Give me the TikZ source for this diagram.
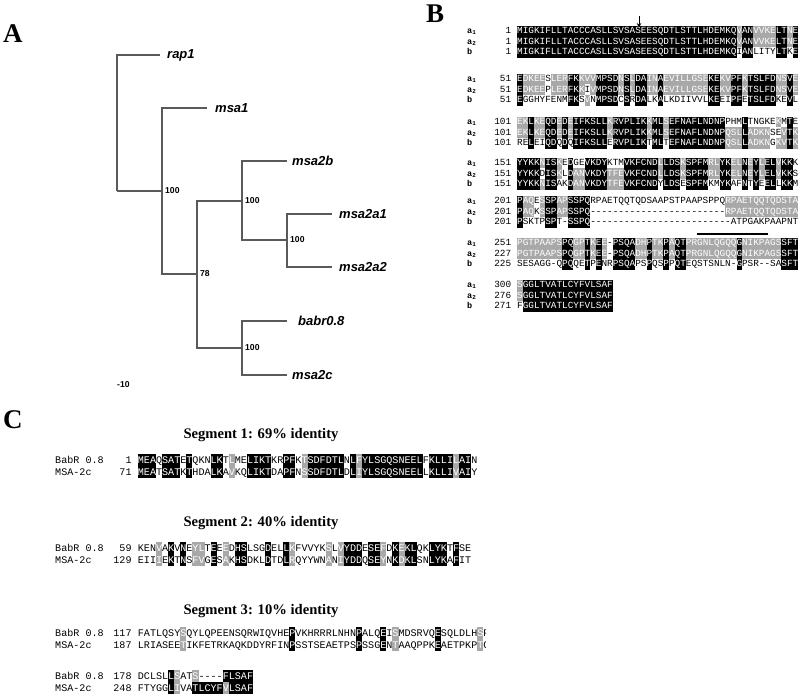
\documentclass[tikz,border=0pt]{standalone}
\usepackage{fontspec}
\setmainfont{Liberation Serif}
\newfontfamily\sansf{Liberation Sans}
\newfontfamily\monof{Liberation Mono}
\usetikzlibrary{arrows.meta}
\definecolor{sgray}{HTML}{A8A8A8}
\definecolor{branchc}{HTML}{5A5A5A}
\newcommand\srstrut{\rule[-2.6pt]{0pt}{10.6pt}}
\ExplSyntaxOn
\str_new:N \l__sr_a_str
\str_new:N \l__sr_b_str
\str_new:N \l__sr_c_str
\str_new:N \l__sr_x_str
\str_new:N \l__sr_y_str
\str_new:N \l__sr_z_str
\tl_new:N \l__sr_k_tl
\clist_new:N \l__sr_g_clist
\clist_new:N \l__sr_bk_clist
\clist_new:N \l__sr_w_clist
\cs_new:Npn \dsh #1 { \prg_replicate:nn {#1} {-} }
\cs_new_protected:Npn \srblack #1
  {
    \group_begin:
    \dim_set:Nn \fboxsep { 0pt }
    \colorbox { black } { \srstrut \textcolor { white } {#1} }
    \group_end:
  }
\cs_new_protected:Npn \srgray #1
  {
    \group_begin:
    \dim_set:Nn \fboxsep { 0pt }
    \colorbox { sgray } { \srstrut \textcolor { white } {#1} }
    \group_end:
  }
\cs_new_protected:Npn \srplain #1 { \srstrut #1 }
\cs_new_protected:Npn \seqrow #1#2#3#4#5#6
  {
    \str_set:Nx \l__sr_a_str {#1}
    \str_set:Nx \l__sr_b_str {#2}
    \str_set:Nx \l__sr_c_str {#3}
    \clist_set:Nn \l__sr_g_clist {#4}
    \clist_set:Nn \l__sr_bk_clist {#5}
    \clist_set:Nn \l__sr_w_clist {#6}
    \int_step_inline:nn { \str_count:N \l__sr_a_str }
      {
        \str_set:Nx \l__sr_x_str { \str_item:Nn \l__sr_a_str {##1} }
        \str_set:Nx \l__sr_y_str { \str_item:Nn \l__sr_b_str {##1} }
        \str_set:Nx \l__sr_z_str { \str_item:Nn \l__sr_c_str {##1} }
        \tl_set:Nn \l__sr_k_tl {w}
        \str_if_eq:VnF \l__sr_x_str {-}
          {
            \bool_if:nTF
              { \str_if_eq_p:VV \l__sr_x_str \l__sr_y_str && \str_if_eq_p:VV \l__sr_x_str \l__sr_z_str }
              { \tl_set:Nn \l__sr_k_tl {k} }
              {
                \bool_if:nT
                  { \str_if_eq_p:VV \l__sr_x_str \l__sr_y_str || \str_if_eq_p:VV \l__sr_x_str \l__sr_z_str }
                  { \tl_set:Nn \l__sr_k_tl {g} }
              }
          }
        \clist_if_in:NnT \l__sr_g_clist {##1} { \tl_set:Nn \l__sr_k_tl {g} }
        \clist_if_in:NnT \l__sr_bk_clist {##1} { \tl_set:Nn \l__sr_k_tl {k} }
        \clist_if_in:NnT \l__sr_w_clist {##1} { \tl_set:Nn \l__sr_k_tl {w} }
        \str_if_eq:VnTF \l__sr_k_tl {k}
          { \srblack { \l__sr_x_str } }
          {
            \str_if_eq:VnTF \l__sr_k_tl {g}
              { \srgray { \l__sr_x_str } }
              { \srplain { \l__sr_x_str } }
          }
      }
  }
\ExplSyntaxOff
% panel B sequences
\newcommand\sqIa{MIGKIFLLTACCCASLLSVSASEESQDTLSTTLHDEMKQVANVVKELTNE}
\newcommand\sqIb{MIGKIFLLTACCCASLLSVSASEESQDTLSTTLHDEMKQVANVVKELTNE}
\newcommand\sqIc{MIGKIFLLTACCCASLLSVSASEESQDTLSTTLHDEMKQIANLITYLTKE}
\newcommand\sqIIa{EDKEESLERFKKVVMPSDNSLDAINAEVILLGSEKEKVPFKTSLFDNSVE}
\newcommand\sqIIb{EDKEEPLERFKKIVMPSDNSLDAINAEVILLGSEKEKVPFKTSLFDNSVE}
\newcommand\sqIIc{EGGHYFENMFKSVNMPSDCSRDALKALKDIIVVLKEEIPFETSLFDKEVL}
\newcommand\sqIIIa{EKLKEQDEDEIFKSLLKRVPLIKKMLSEFNAFLNDNPPHMLTNGKEKMTE}
\newcommand\sqIIIb{EKLKEQDEDEIFKSLLKRVPLIKKMLSEFNAFLNDNPQSLLADKNSEVTK}
\newcommand\sqIIIc{RELEIQDQDQIFKSLLERVPLIKTMLTEFNAFLNDNPQSLLADKNGKVTK}
\newcommand\sqIVa{YYKKNISKEDGEVKDYKTMVKFCNDLLDSKSPFMRLYKELNEYLELVKKK}
\newcommand\sqIVb{YYKKDISKLDANVKDYTFEVKFCNDLLDSKSPFMRLYKELNEYLELVKKS}
\newcommand\sqIVc{YYKKNISAKDANVKDYTFEVKFCNDYLDSESPFMKMYKAFNTYEELLKKM}
\newcommand\sqVa{PAQESSPAPSSPQRPAETQQTQDSAAPSTPAAPSPPQRPAETQQTQDSTA}
\newcommand\sqVb{PAQKSSPAPSSPQ\dsh{24}RPAETQQTQDSTA}
\newcommand\sqVc{PSKTPSPT-SSPQ\dsh{25}ATPGAKPAAPNT}
\newcommand\sqVIa{PGTPAAPSPQGPTKEE-PSQADHPTKPAQTPRGNLQGQQGNIKPAGSSFT}
\newcommand\sqVIb{PGTPAAPSPQGPTKEE-PSQADHPTKPAQTPRGNLQGQQGNIKPAGSSFT}
\newcommand\sqVIc{SESAGG-QPQQETPENRPSQAPSPQSPPQTEQSTSNLN-GPSR--SASFT}
\newcommand\sqVIIa{SGGLTVATLCYFVLSAF}
\newcommand\sqVIIb{SGGLTVATLCYFVLSAF}
\newcommand\sqVIIc{FGGLTVATLCYFVLSAF}
% panel C sequences
\newcommand\sqCIa{MEAQSATETQKNLKTLMELIKTKRPFKTSDFDTLNLFYLSGQSNEELFKLLILAIN}
\newcommand\sqCIb{MEATSATKTHDALKAVKQLIKTDAPFNSSDFDTLDLIYLSGQSNEELLKLLIVAIY}
\newcommand\sqCIIa{KENVAKVNEYLTEEEDHSLSGDELLKFVVYKSLVYDDESEFDKEKLQKLYKTFSE}
\newcommand\sqCIIb{EIIIEKTNSFVGESAKHSDKLDTDLRQYYWNANIYDDQSEYNKDKLSNLYKAFIT}
\newcommand\sqCIIIa{FATLQSYSQYLQPEENSQRWIQVHEPVKHRRRLNHNPALQEISMDSRVQESQLDLHSPFR}
\newcommand\sqCIIIb{LRIASEETIKFETRKAQKDDYRFINPSSTSEAETPSPSSGENTAAQPPKEAETPKPTGSS}
\newcommand\sqCIVa{DCLSLLSATS----FLSAF}
\newcommand\sqCIVb{FTYGGLIVATLCYFVLSAF}
\newcommand\brow[8]{%
  \node[blab] (#1l) at (467,#2) {\srstrut#3};
  \node[bnum] (#1n) at (511.4,#2) {\srstrut#4};
  \node[bseq] (#1s) at (517,#2) {\seqrow{#5}{#6}{#7}{#8}{}{}};%
}
\newcommand\crow[8]{%
  \node[clab] (#1l) at (55,#2) {\srstrut#3};
  \node[cnum] (#1n) at (131.8,#2) {\srstrut#4};
  \node[cseq] (#1s) at (137.7,#2) {\seqrow{#5}{#6}{#6}{#7}{#8}{}};%
}
\tikzset{
  branch/.style={draw=branchc, line width=1.1pt},
  leaf/.style={anchor=west, inner ysep=0pt, inner xsep=6pt,
    font=\sansf\bfseries\itshape\fontsize{13}{13}\selectfont},
  boot/.style={anchor=west, inner sep=0pt, font=\sansf\bfseries\fontsize{8.6}{8.6}\selectfont},
  panel/.style={anchor=base west, inner sep=0pt, font=\bfseries\fontsize{27}{27}\selectfont},
  segtitle/.style={inner sep=0pt, font=\bfseries\fontsize{14.6}{14.6}\selectfont},
  bstrut/.style={execute at begin node={\def\srstrut{\rule[-2.6pt]{0pt}{10.6pt}}}},
  cstrut/.style={execute at begin node={\def\srstrut{\rule[-3pt]{0pt}{12pt}}}},
  blab/.style={bstrut, anchor=west, inner sep=0pt, font=\monof\bfseries\fontsize{8.5}{8.5}\selectfont},
  bnum/.style={bstrut, anchor=east, inner sep=0pt, font=\monof\fontsize{9.37}{9.37}\selectfont},
  bseq/.style={bstrut, anchor=west, inner sep=0pt, font=\monof\fontsize{9.37}{10.6}\selectfont},
  clab/.style={cstrut, anchor=west, inner sep=0pt, font=\monof\fontsize{10.1}{10.1}\selectfont},
  cnum/.style={cstrut, anchor=east, inner sep=0pt, font=\monof\fontsize{10.1}{10.1}\selectfont},
  cseq/.style={cstrut, anchor=west, inner sep=0pt, font=\monof\fontsize{10.1}{12}\selectfont},
}
\begin{document}
\begin{tikzpicture}[x=1pt,y=-1pt]
\fill[white] (0,0) rectangle (800,696);
\useasboundingbox (0,0) rectangle (800,696);
% panel letters
\node[panel] (pA) at (3,42) {A};
\node[panel] (pB) at (426,22) {B};
\node[panel] (pC) at (3,428) {C};
% ---------- panel A: tree ----------
\coordinate (root) at (117,191);
\coordinate (n1) at (162,191);
\coordinate (n2) at (197,274);
\coordinate (n3) at (242,201);
\coordinate (n4) at (287,240);
\coordinate (n5) at (242,348);
\node[leaf, inner xsep=7pt] (rap1) at (160,55) {rap1};
\node[leaf, inner xsep=8pt] (msa1) at (207,108) {msa1};
\node[leaf, inner xsep=5pt] (msa2b) at (287,161) {msa2b};
\node[leaf, inner xsep=7pt] (msa2a1) at (332,214) {msa2a1};
\node[leaf, inner xsep=7pt] (msa2a2) at (332,267) {msa2a2};
\node[leaf, inner xsep=11pt] (babr) at (287,321) {babr0.8};
\node[leaf, inner xsep=5pt] (msa2c) at (287,375) {msa2c};
\draw[branch] (root) |- (rap1.west);
\draw[branch] (root) -- (n1);
\draw[branch] (n1) |- (msa1.west);
\draw[branch] (n1) |- (n2);
\draw[branch] (n2) |- (n3);
\draw[branch] (n2) |- (n5);
\draw[branch] (n3) |- (msa2b.west);
\draw[branch] (n3) |- (n4);
\draw[branch] (n4) |- (msa2a1.west);
\draw[branch] (n4) |- (msa2a2.west);
\draw[branch] (n5) |- (babr.west);
\draw[branch] (n5) |- (msa2c.west);
\node[boot] (bs1) at (165,191) {100};
\node[boot] (bs2) at (200,274) {78};
\node[boot] (bs3) at (245,201) {100};
\node[boot] (bs4) at (290,240) {100};
\node[boot] (bs5) at (245,348) {100};
\node[boot] (scale) at (117,385) {-10};
% ---------- panel B ----------
\coordinate (arrT) at (639,16);
\coordinate (arrB) at (639,28);
\draw[line width=0.9pt, -{Stealth[length=5pt,width=4.5pt]}] (arrT) -- (arrB);
\brow{r1a}{31}{a\textsubscript{1}}{1}{\sqIa}{\sqIb}{\sqIc}{}
\brow{r1b}{41.6}{a\textsubscript{2}}{1}{\sqIb}{\sqIa}{\sqIc}{}
\brow{r1c}{52.2}{b}{1}{\sqIc}{\sqIa}{\sqIb}{}
\brow{r2a}{79}{a\textsubscript{1}}{51}{\sqIIa}{\sqIIb}{\sqIIc}{}
\brow{r2b}{89.6}{a\textsubscript{2}}{51}{\sqIIb}{\sqIIa}{\sqIIc}{}
\brow{r2c}{100.2}{b}{51}{\sqIIc}{\sqIIa}{\sqIIb}{}
\brow{r3a}{122}{a\textsubscript{1}}{101}{\sqIIIa}{\sqIIIb}{\sqIIIc}{}
\brow{r3b}{132.6}{a\textsubscript{2}}{101}{\sqIIIb}{\sqIIIa}{\sqIIIc}{}
\brow{r3c}{143.2}{b}{101}{\sqIIIc}{\sqIIIa}{\sqIIIb}{}
\brow{r4a}{163}{a\textsubscript{1}}{151}{\sqIVa}{\sqIVb}{\sqIVc}{}
\brow{r4b}{173.6}{a\textsubscript{2}}{151}{\sqIVb}{\sqIVa}{\sqIVc}{}
\brow{r4c}{184.2}{b}{151}{\sqIVc}{\sqIVa}{\sqIVb}{}
\brow{r5a}{201}{a\textsubscript{1}}{201}{\sqVa}{\sqVb}{\sqVc}{}
\brow{r5b}{211.6}{a\textsubscript{2}}{201}{\sqVb}{\sqVa}{\sqVc}{}
\brow{r5c}{222.2}{b}{201}{\sqVc}{\sqVa}{\sqVb}{}
\brow{r6a}{243}{a\textsubscript{1}}{251}{\sqVIa}{\sqVIb}{\sqVIc}{}
\brow{r6b}{253.6}{a\textsubscript{2}}{227}{\sqVIb}{\sqVIa}{\sqVIc}{}
\brow{r6c}{264.2}{b}{225}{\sqVIc}{\sqVIa}{\sqVIb}{}
\brow{r7a}{285}{a\textsubscript{1}}{300}{\sqVIIa}{\sqVIIb}{\sqVIIc}{}
\brow{r7b}{295.6}{a\textsubscript{2}}{276}{\sqVIIb}{\sqVIIa}{\sqVIIc}{}
\brow{r7c}{306.2}{b}{271}{\sqVIIc}{\sqVIIa}{\sqVIIb}{}
\coordinate (ol1) at (697,234);
\coordinate (ol2) at (768,234);
\draw[line width=1.4pt] (ol1) -- (ol2);
% ---------- panel C ----------
\node[segtitle] (t1) at (261,435) {Segment 1: 69\% identity};
\node[segtitle] (t2) at (261,523) {Segment 2: 40\% identity};
\node[segtitle] (t3) at (261,611) {Segment 3: 10\% identity};
\begin{scope}
\clip (0,440) rectangle (485,696);
\crow{c1a}{460}{BabR 0.8}{1}{\sqCIa}{\sqCIb}{16,28,37,53}{}
\crow{c1b}{472}{MSA-2c}{71}{\sqCIb}{\sqCIa}{16,28,37,53}{}
\crow{c2a}{548}{BabR 0.8}{59}{\sqCIIa}{\sqCIIb}{4,10,11,15,26,32,34,41,44}{}
\crow{c2b}{560}{MSA-2c}{129}{\sqCIIb}{\sqCIIa}{4,10,11,15,26,32,34,41,44}{}
\crow{c3a}{633}{BabR 0.8}{117}{\sqCIIIa}{\sqCIIIb}{8,43,57}{}
\crow{c3b}{645}{MSA-2c}{187}{\sqCIIIb}{\sqCIIIa}{8,43,57}{}
\crow{c4a}{676}{BabR 0.8}{178}{\sqCIVa}{\sqCIVb}{7,10}{15}
\crow{c4b}{688}{MSA-2c}{248}{\sqCIVb}{\sqCIVa}{7,15}{10,11,12,13,14}
\end{scope}
\end{tikzpicture}
\end{document}
